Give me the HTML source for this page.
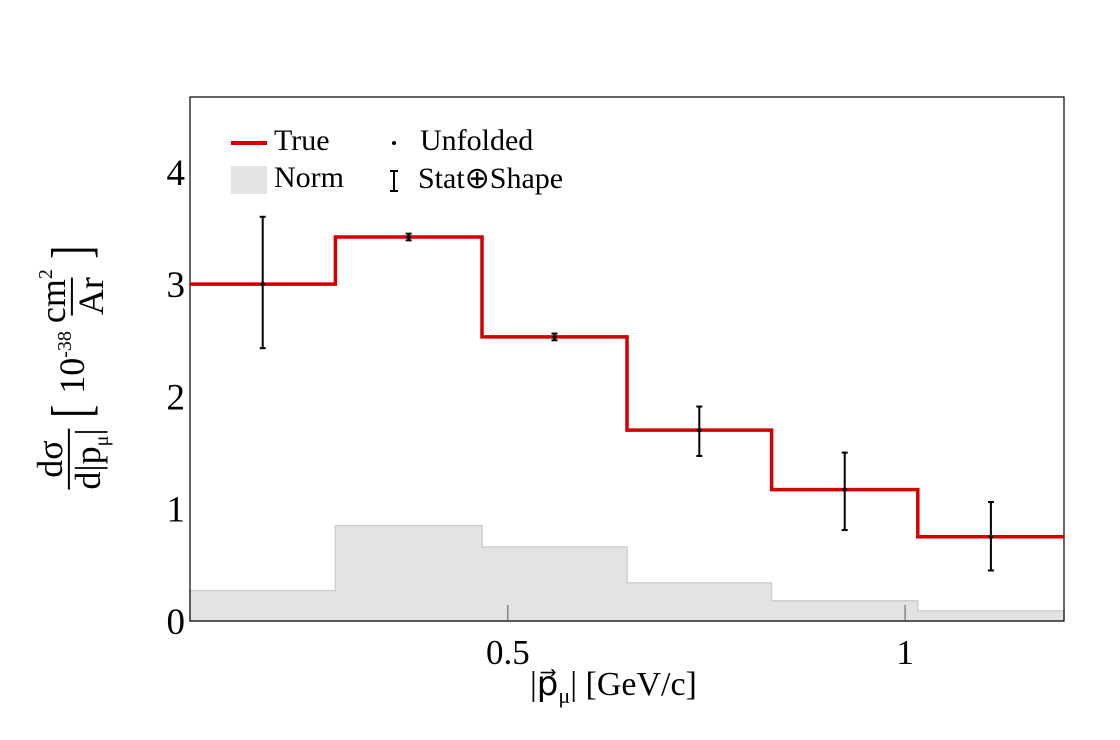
<!DOCTYPE html>
<html><head><meta charset="utf-8"><style>
body{margin:0;background:#fff;}
svg{display:block;font-family:"Liberation Serif",serif;}
</style></head><body>
<svg id="c" width="1120" height="740"></svg>
<script>
const binEdges=[0.1,0.283,0.4675,0.65,0.832,1.016,1.2];
const trueVals=[3.0,3.42,2.53,1.70,1.17,0.75];
const normVals=[0.27,0.85,0.66,0.34,0.18,0.09];
const unfoldVals=[3.0,3.42,2.53,1.70,1.17,0.75];
const errHi=[3.6,3.45,2.56,1.91,1.50,1.06];
const errLo=[2.43,3.39,2.50,1.47,0.81,0.45];
const xTicks=[0.5,1];
const yTicks=[0,1,2,3,4];
const X0=190,X1=1064,Y0=621,Y1=97,xmin=0.1,xmax=1.2,ymax=4.667;
const sx=v=>X0+(v-xmin)/(xmax-xmin)*(X1-X0);
const sy=v=>Y0-v/ymax*(Y0-Y1);
const svg=document.getElementById('c');const NS='http://www.w3.org/2000/svg';
function mk(t,a,p){const e=document.createElementNS(NS,t);for(const k in a)e.setAttribute(k,a[k]);(p||svg).appendChild(e);return e;}
let d=`M${sx(binEdges[0])},${Y0}`;
normVals.forEach((v,i)=>{d+=`L${sx(binEdges[i])},${sy(v)}L${sx(binEdges[i+1])},${sy(v)}`;});
d+=`L${sx(binEdges[6])},${Y0}Z`;
const nh=mk('path',{d:d,fill:'#e3e3e3',stroke:'#cfcfcf','stroke-width':1.5});


const fr=mk('rect',{x:X0,y:Y1,width:X1-X0,height:Y0-Y1,fill:'none',stroke:'#000','stroke-width':1.2});


xTicks.forEach(t=>{
 const l=mk('line',{x1:sx(t),x2:sx(t),y1:Y0,y2:Y0-16,stroke:'#555','stroke-width':1});
 
 
 const tx=mk('text',{x:sx(t),y:664,'font-size':35,'text-anchor':'middle'});tx.textContent=t;
 
 
});
yTicks.forEach(t=>{
 const tx=mk('text',{x:185,y:sy(t)+13,'font-size':37,'text-anchor':'end'});tx.textContent=t;
 
 
});
let td='';
trueVals.forEach((v,i)=>{td+=(i?'L':'M')+`${sx(binEdges[i])},${sy(v)}L${sx(binEdges[i+1])},${sy(v)}`;});
const tl=mk('path',{d:td,fill:'none',stroke:'#d40000','stroke-width':3.5});


unfoldVals.forEach((v,i)=>{
 const cx=sx((binEdges[i]+binEdges[i+1])/2);
 const g=mk('g',{});
 
 
 mk('line',{x1:cx,x2:cx,y1:sy(errHi[i]),y2:sy(errLo[i]),stroke:'#000','stroke-width':2},g);
 mk('line',{x1:cx-3,x2:cx+3,y1:sy(errHi[i]),y2:sy(errHi[i]),stroke:'#000','stroke-width':2},g);
 mk('line',{x1:cx-3,x2:cx+3,y1:sy(errLo[i]),y2:sy(errLo[i]),stroke:'#000','stroke-width':2},g);
 mk('circle',{cx:cx,cy:sy(v),r:2.2,fill:'#000'},g);
});
</script>
<div style="position:absolute;left:0;top:0;width:1120px;height:740px;pointer-events:none;font-family:'Liberation Serif',serif;">
 <div>
  <div style="position:absolute;left:231px;top:124px;font-size:30px;"><span style="display:inline-block;width:36px;height:4px;background:#d40000;vertical-align:middle;margin-right:7px;"></span>True</div>
  <div style="position:absolute;left:231px;top:161px;font-size:30px;"><span style="display:inline-block;width:36px;height:28px;background:#e3e3e3;vertical-align:middle;margin-right:7px;"></span>Norm</div>
  <div style="position:absolute;left:390px;top:124px;font-size:30px;"><span style="display:inline-block;width:4px;height:4px;border-radius:2px;background:#000;vertical-align:middle;margin-right:24px;margin-left:2px"></span>Unfolded</div>
  <div style="position:absolute;left:390px;top:161px;font-size:30px;"><span style="display:inline-block;vertical-align:middle;margin-right:20px;margin-left:0px;position:relative;width:8px;height:22px;"><span style="position:absolute;left:3px;top:0;width:2px;height:22px;background:#000"></span><span style="position:absolute;left:0;top:0;width:8px;height:2px;background:#000"></span><span style="position:absolute;left:0;bottom:0;width:8px;height:2px;background:#000"></span></span>Stat⊕Shape</div>
 </div>
 <div style="position:absolute;left:530px;top:664px;font-size:34px;">|p&#8407;<sub style="font-size:22px">μ</sub>| [GeV/c]</div>
 <div style="position:absolute;left:72px;top:366px;transform:translate(-50%,-50%) rotate(-90deg);white-space:nowrap;font-size:36px;display:flex;align-items:center;gap:8px;">
  <span style="display:inline-flex;flex-direction:column;align-items:center;line-height:1"><span>dσ</span><span style="border-top:2px solid #000;">d|p<sub style="font-size:20px">μ</sub>|</span></span>
  <span style="font-size:56px;transform:scaleX(0.7)">[</span><span>10<sup style="font-size:20px">-38</sup></span>
  <span style="display:inline-flex;flex-direction:column;align-items:center;line-height:1"><span>cm<sup style="font-size:20px">2</sup></span><span style="border-top:2px solid #000;">Ar</span></span><span style="font-size:56px;transform:scaleX(0.7)">]</span>
 </div>
</div>
</body></html>
